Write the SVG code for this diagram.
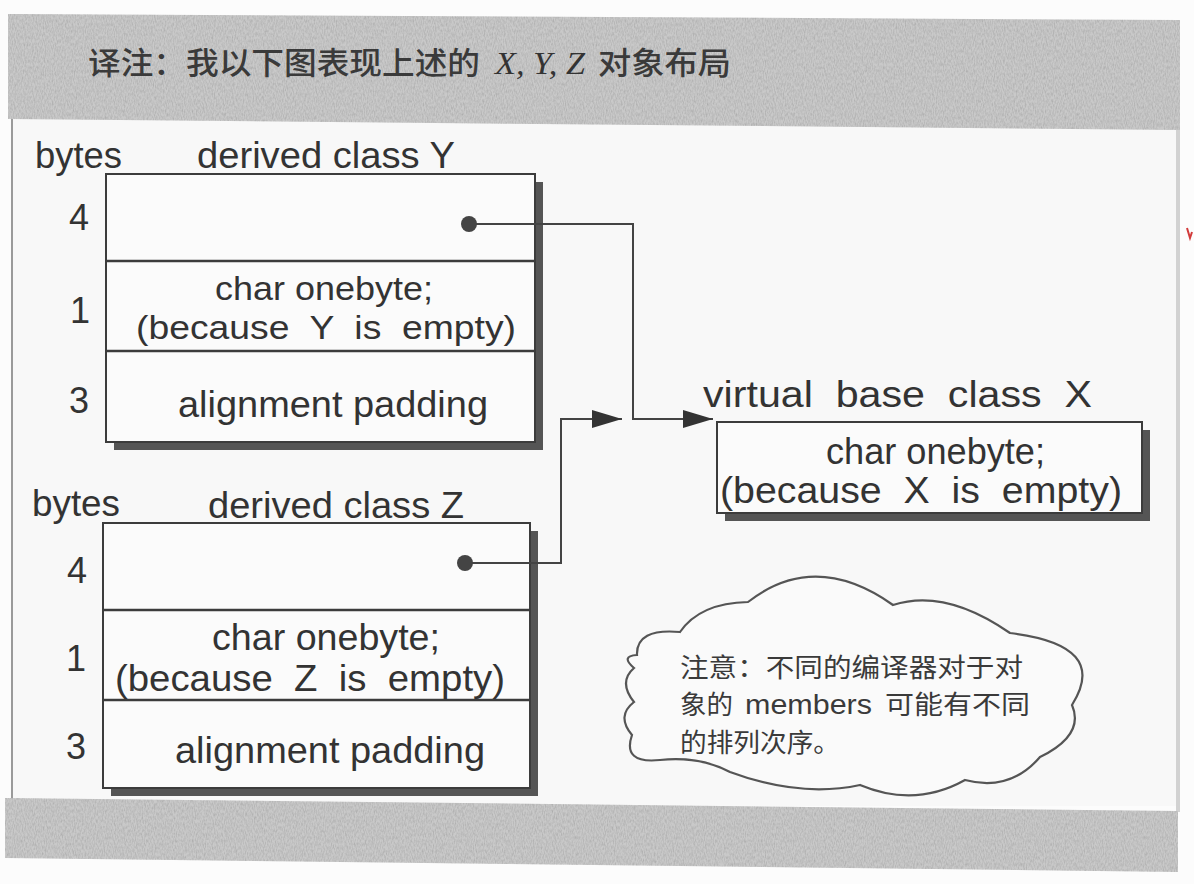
<svg xmlns="http://www.w3.org/2000/svg" width="1194" height="884" viewBox="0 0 1194 884">
  <style>
    .lbl { font-family: "Liberation Sans", Arial, sans-serif; font-size: 36px; fill: #333; white-space: pre; }
    .tight { font-size: 34px; }
    .num { font-family: "Liberation Sans", Arial, sans-serif; font-size: 36px; fill: #333; text-anchor: middle; }
    .cjk { font-family: "Noto Sans CJK SC", "Noto Sans", sans-serif; fill: #3a3a3a; }
    .box { fill: #fbfbfb; stroke: #3c3c3c; stroke-width: 2; }
    .shadow { fill: #555; }
    .rule { stroke: #3c3c3c; stroke-width: 2.5; }
    .wire { fill: none; stroke: #444; stroke-width: 2; }
    .dot { fill: #444; }
    .band { fill: #c9c9c9; }
  </style>
  <defs>
    <filter id="grain" x="0" y="0" width="100%" height="100%">
      <feTurbulence type="fractalNoise" baseFrequency="0.9 0.3" numOctaves="2" seed="7" result="n"/>
      <feColorMatrix in="n" type="matrix" values="0 0 0 0 0  0 0 0 0 0  0 0 0 0 0  0.5 0 0 0 -0.17" result="dots"/>
      <feComposite in="dots" in2="SourceGraphic" operator="in" result="clip"/>
      <feMerge><feMergeNode in="SourceGraphic"/><feMergeNode in="clip"/></feMerge>
    </filter>
    <marker id="arrow" markerUnits="userSpaceOnUse" markerWidth="31" markerHeight="20" refX="30" refY="10" orient="auto">
      <path d="M0,1 L30,10 L0,19 Z" fill="#333"/>
    </marker>
  </defs>

  <!-- page -->
  <rect x="0" y="0" width="1194" height="884" fill="#fcfcfc"/>

  <!-- framed panel: white body between two grainy grey bands -->
  <rect x="12" y="116" width="1166" height="690" fill="#f8f8f8"/>
  <line x1="12" y1="116" x2="12" y2="804" stroke="#9a9a9a" stroke-width="2"/>
  <line x1="1178" y1="126" x2="1178" y2="812" stroke="#d2d2d2" stroke-width="4"/>
  <polygon class="band" points="8,14 1180,20 1180,130 8,119" filter="url(#grain)"/>
  <polygon class="band" points="5,798 1178,811 1178,872 5,858" filter="url(#grain)"/>
  <path d="M1187,228 L1190,238 L1192,232" fill="none" stroke="#d23a3a" stroke-width="2"/>

  <!-- heading -->
  <g id="heading">
    <text class="cjk" x="88" y="74" font-size="31" font-weight="500" textLength="392" lengthAdjust="spacingAndGlyphs">译注：我以下图表现上述的</text>
    <text x="495" y="74" font-family="Liberation Serif, serif" font-style="italic" font-size="31" fill="#333" textLength="90" lengthAdjust="spacingAndGlyphs">X, Y, Z</text>
    <text class="cjk" x="598" y="74" font-size="31" font-weight="500" textLength="133" lengthAdjust="spacingAndGlyphs">对象布局</text>
  </g>

  <!-- derived class Y -->
  <g id="class-y">
    <text class="lbl" x="35" y="168" textLength="87" lengthAdjust="spacingAndGlyphs">bytes</text>
    <text class="lbl" x="197" y="168" textLength="258" lengthAdjust="spacingAndGlyphs">derived class Y</text>
    <rect class="shadow" x="114" y="182" width="429" height="268"/>
    <rect class="box" x="106" y="174" width="429" height="268"/>
    <line class="rule" x1="106" y1="261" x2="535" y2="261"/>
    <line class="rule" x1="106" y1="351" x2="535" y2="351"/>
    <text class="num" x="79" y="230">4</text>
    <text class="num" x="80" y="323">1</text>
    <text class="num" x="79" y="413">3</text>
    <text class="lbl tight" x="215" y="300" textLength="218" lengthAdjust="spacingAndGlyphs">char onebyte;</text>
    <text class="lbl tight" x="136" y="339" textLength="380" lengthAdjust="spacingAndGlyphs">(because  Y  is  empty)</text>
    <text class="lbl" x="178" y="417" textLength="310" lengthAdjust="spacingAndGlyphs">alignment padding</text>
  </g>

  <!-- derived class Z -->
  <g id="class-z">
    <text class="lbl" x="32" y="516" textLength="88" lengthAdjust="spacingAndGlyphs">bytes</text>
    <text class="lbl" x="208" y="518" textLength="256" lengthAdjust="spacingAndGlyphs">derived class Z</text>
    <rect class="shadow" x="111" y="531" width="427" height="265"/>
    <rect class="box" x="103" y="523" width="427" height="265"/>
    <line class="rule" x1="103" y1="610" x2="530" y2="610"/>
    <line class="rule" x1="103" y1="700" x2="530" y2="700"/>
    <text class="num" x="77" y="583">4</text>
    <text class="num" x="76" y="671">1</text>
    <text class="num" x="76" y="759">3</text>
    <text class="lbl" x="212" y="650" textLength="228" lengthAdjust="spacingAndGlyphs">char onebyte;</text>
    <text class="lbl" x="115" y="691" textLength="390" lengthAdjust="spacingAndGlyphs">(because  Z  is  empty)</text>
    <text class="lbl" x="175" y="763" textLength="310" lengthAdjust="spacingAndGlyphs">alignment padding</text>
  </g>

  <!-- virtual base class X -->
  <g id="class-x">
    <text class="lbl" x="703" y="407" textLength="389" lengthAdjust="spacingAndGlyphs">virtual  base  class  X</text>
    <rect class="shadow" x="725" y="430" width="425" height="91"/>
    <rect class="box" x="717" y="422" width="425" height="91"/>
    <text class="lbl" x="826" y="464" textLength="219" lengthAdjust="spacingAndGlyphs">char onebyte;</text>
    <text class="lbl" x="720" y="503" textLength="402" lengthAdjust="spacingAndGlyphs">(because  X  is  empty)</text>
  </g>

  <!-- note cloud -->
  <g id="note">
    <path d="M637,655 Q636,628 680,632 Q700,603 748,602 Q815,550 893,605 Q945,588 1010,633 Q1110,645 1072,705 Q1085,735 1040,757 Q1010,792 965,780 Q915,808 860,785 Q800,798 730,772 Q700,756 660,760 Q622,764 632,735 Q616,716 634,702 Q618,682 634,668 Q620,656 637,655 Z" fill="#fafafa" stroke="#555" stroke-width="2.2"/>
    <text class="cjk" x="680" y="677" font-size="26" textLength="343" lengthAdjust="spacingAndGlyphs">注意：不同的编译器对于对</text>
    <text class="cjk" x="680" y="714" font-size="26" textLength="53" lengthAdjust="spacingAndGlyphs">象的</text>
    <text x="745" y="714" font-family="Liberation Sans, Arial, sans-serif" font-size="27" fill="#3a3a3a" textLength="127" lengthAdjust="spacingAndGlyphs">members</text>
    <text class="cjk" x="885" y="714" font-size="26" textLength="145" lengthAdjust="spacingAndGlyphs">可能有不同</text>
    <text class="cjk" x="680" y="752" font-size="26" textLength="160" lengthAdjust="spacingAndGlyphs">的排列次序。</text>
  </g>

  <!-- connectors: pointer slots to the shared virtual base -->
  <g id="connectors">
    <path class="wire" d="M469,224 H633 V419 H713" marker-end="url(#arrow)"/>
    <path class="wire" d="M465,563 H561 V419 H622" marker-end="url(#arrow)"/>
    <circle class="dot" cx="469" cy="224" r="8"/>
    <circle class="dot" cx="465" cy="563" r="8"/>
  </g>
</svg>
